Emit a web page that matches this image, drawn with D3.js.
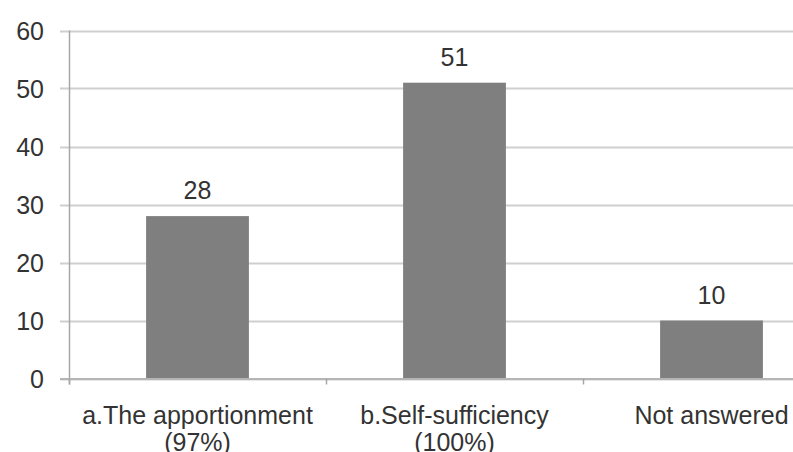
<!DOCTYPE html>
<html>
<head>
<meta charset="utf-8">
<script src="https://cdn.jsdelivr.net/npm/d3@7"></script>
<style>
  html, body { margin: 0; padding: 0; background: #fff; overflow: hidden; }
  svg { display: block; font-family: "Liberation Sans", Arial, sans-serif; }
</style>
</head>
<body>
<svg id="chart" width="793" height="452"></svg>
<script>
const categories = ["a.The apportionment\n(97%)", "b.Self-sufficiency\n(100%)", "Not answered"];
const values = [28, 51, 10];
const yTicks = [0, 10, 20, 30, 40, 50, 60];

const svg = d3.select("#chart");
const W = 793, H = 452;
const plotLeft = 69, plotRight = 840, plotTop = 30.5, plotBottom = 378.5;

const x = d3.scaleBand().domain(categories).range([plotLeft, plotRight]).paddingInner(0.6).paddingOuter(0.3);
const y = d3.scaleLinear().domain([0, 60]).range([plotBottom, plotTop]);

// gridlines
svg.append("g").selectAll("line").data(yTicks).join("line")
  .attr("x1", 60).attr("x2", W)
  .attr("y1", d => Math.round(y(d)) + 0.5).attr("y2", d => Math.round(y(d)) + 0.5)
  .attr("stroke", "#cfcfcf").attr("stroke-width", 2);

// y axis line
svg.append("line").attr("x1", plotLeft + 0.5).attr("x2", plotLeft + 0.5)
  .attr("y1", y(60)).attr("y2", plotBottom + 6)
  .attr("stroke", "#a6a6a6").attr("stroke-width", 1.5);

// y labels
svg.append("g").selectAll("text").data(yTicks).join("text")
  .attr("x", 44).attr("y", d => y(d) + 9)
  .attr("text-anchor", "end").attr("font-size", 25).attr("fill", "#333")
  .text(d => d);

// bars
svg.append("g").selectAll("rect").data(values).join("rect")
  .attr("x", (d, i) => x(categories[i]))
  .attr("width", x.bandwidth())
  .attr("y", d => y(d))
  .attr("height", d => plotBottom - y(d))
  .attr("fill", "#7f7f7f");

// x axis baseline
svg.append("line").attr("x1", 60).attr("x2", W)
  .attr("y1", plotBottom + 0.5).attr("y2", plotBottom + 0.5)
  .attr("stroke", "#b5b5b5").attr("stroke-width", 2);

// category boundary ticks
const bounds = d3.range(categories.length + 1).map(i => plotLeft + i * x.step());
svg.append("g").selectAll("line").data(bounds).join("line")
  .attr("x1", d => d + 0.5).attr("x2", d => d + 0.5)
  .attr("y1", plotBottom).attr("y2", plotBottom + 6)
  .attr("stroke", "#a6a6a6").attr("stroke-width", 1.5);

// value labels
svg.append("g").selectAll("text").data(values).join("text")
  .attr("x", (d, i) => x(categories[i]) + x.bandwidth() / 2)
  .attr("y", d => y(d) - 17)
  .attr("text-anchor", "middle").attr("font-size", 25).attr("fill", "#333")
  .text(d => d);

// category labels
const cl = svg.append("g").selectAll("text").data(categories).join("text")
  .attr("x", d => x(d) + x.bandwidth() / 2)
  .attr("y", 424)
  .attr("text-anchor", "middle").attr("font-size", 25).attr("fill", "#333");
cl.selectAll("tspan").data(d => d.split("\n")).join("tspan")
  .attr("x", function() { return d3.select(this.parentNode).attr("x"); })
  .attr("dy", (d, i) => i === 0 ? 0 : 27)
  .text(d => d);
</script>
</body>
</html>
